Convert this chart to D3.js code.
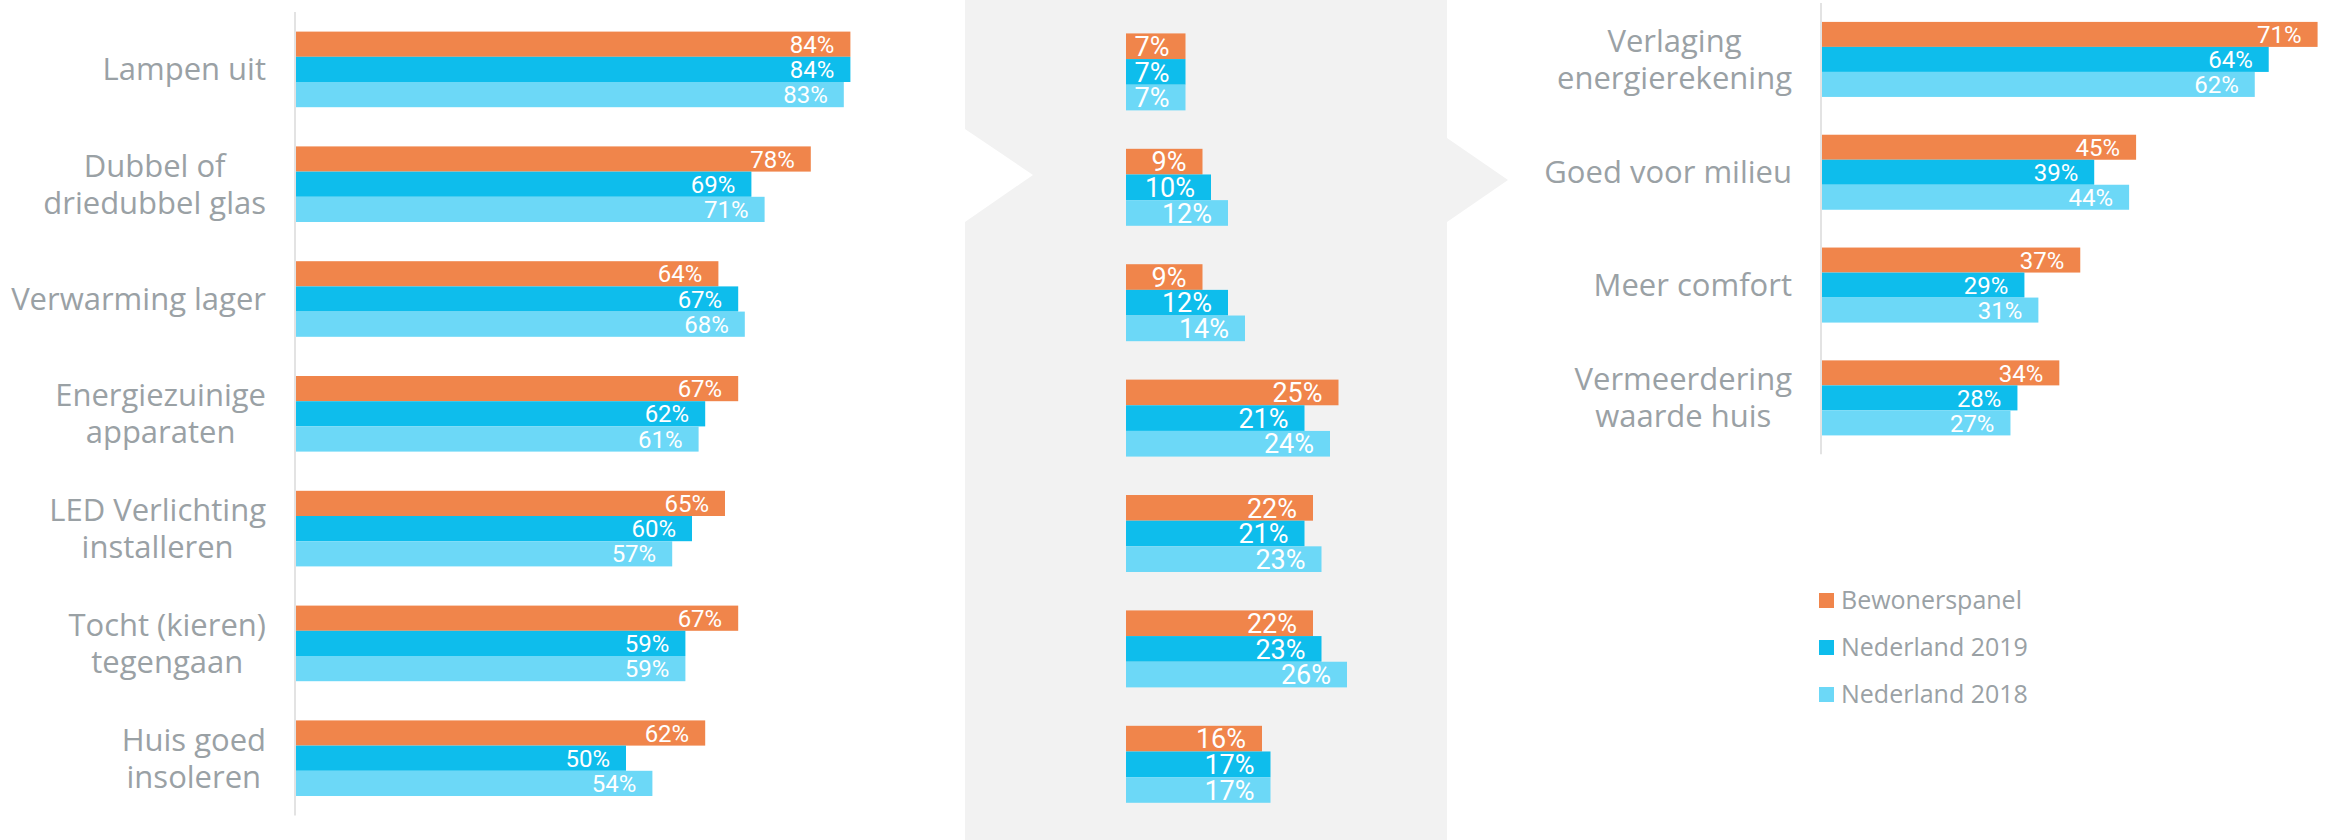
<!DOCTYPE html>
<html>
<head>
<meta charset="utf-8">
<script src="https://cdn.jsdelivr.net/npm/d3@7"></script>
<style>
  body { margin: 0; background: #ffffff; }
  .cat { font-family: "Open Sans", sans-serif; font-size: 31px; fill: #9aa1a5; }
  .val { font-family: Roboto, sans-serif; fill: #ffffff; }
  .legend text { font-family: "Open Sans", sans-serif; font-size: 25px; fill: #9aa1a5; }
</style>
</head>
<body>
<svg id="chart" width="2325" height="840"></svg>
<script>
// series
var series = ["Bewonerspanel", "Nederland 2019", "Nederland 2018"];
var seriesColors = ["#f0854b", "#0ebdec", "#6cd8f7"];

// maatregelen (left + middle panel share these rows)
var measures = [
    "Lampen uit",
    "Dubbel of\ndriedubbel glas",
    "Verwarming lager",
    "Energiezuinige\napparaten",
    "LED Verlichting\ninstalleren",
    "Tocht (kieren)\ntegengaan",
    "Huis goed\ninsoleren"
];
var doneBewoners = [84, 78, 64, 67, 65, 67, 62];
var doneNL2019   = [84, 69, 67, 62, 60, 59, 50];
var doneNL2018   = [83, 71, 68, 61, 57, 59, 54];

var planBewoners = [7, 9, 9, 25, 22, 22, 16];
var planNL2019   = [7, 10, 12, 21, 21, 23, 17];
var planNL2018   = [7, 12, 14, 24, 23, 26, 17];

// motieven (right panel)
var reasons = [
    "Verlaging\nenergierekening",
    "Goed voor milieu",
    "Meer comfort",
    "Vermeerdering\nwaarde huis"
];
var reasonBewoners = [71, 45, 37, 34];
var reasonNL2019   = [64, 39, 29, 28];
var reasonNL2018   = [62, 44, 31, 27];

var svg = d3.select("#chart");

// grey middle block with notch on the left and point on the right
svg.append("path")
    .attr("d", "M965,0 L1447,0 L1447,138 L1508,180 L1447,222 L1447,840 L965,840 L965,222 L1033,175 L965,129 Z")
    .attr("fill", "#f2f2f2");

function drawPanel(opts) {
    var g = svg.append("g");
    var data = opts.cats.map(function(c, i) {
        return { cat: c, values: opts.values.map(function(arr) { return arr[i]; }) };
    });

    var y = d3.scaleBand()
        .domain(opts.cats)
        .range(opts.yRange)
        .paddingInner(opts.padInner)
        .paddingOuter(opts.padInner / 2);

    var ySub = d3.scaleBand()
        .domain(series)
        .range([0, y.bandwidth()]);

    var x = d3.scaleLinear()
        .domain([0, 100])
        .range([opts.x0, opts.x0 + 100 * opts.pxPerPct]);

    var rows = g.selectAll(".row")
        .data(data)
        .enter().append("g")
        .attr("class", "row")
        .attr("transform", function(d) { return "translate(0," + y(d.cat) + ")"; });

    rows.selectAll("rect")
        .data(function(d) { return d.values.map(function(v, k) { return { s: series[k], k: k, v: v }; }); })
        .enter().append("rect")
        .attr("x", x(0))
        .attr("y", function(d) { return ySub(d.s); })
        .attr("width", function(d) { return x(d.v) - x(0); })
        .attr("height", ySub.bandwidth())
        .attr("fill", function(d) { return seriesColors[d.k]; });

    rows.selectAll(".val")
        .data(function(d) { return d.values.map(function(v, k) { return { s: series[k], v: v }; }); })
        .enter().append("text")
        .attr("class", "val")
        .attr("x", function(d) { return x(d.v) - 16; })
        .attr("y", function(d) { return ySub(d.s) + ySub.bandwidth() / 2 + opts.valSize * 0.36; })
        .attr("text-anchor", "end")
        .style("font-size", opts.valSize + "px")
        .text(function(d) { return d.v + "%"; });

    if (opts.axis) {
        g.append("line")
            .attr("x1", x(0) - 1).attr("x2", x(0) - 1)
            .attr("y1", opts.yRange[0]).attr("y2", opts.yRange[1])
            .attr("stroke", "#e3e3e3")
            .attr("stroke-width", 2);
    }

    if (opts.labels) {
        var lineH = 37;
        rows.each(function(d) {
            var lines = d.cat.split("\n");
            var t = d3.select(this).append("text").attr("class", "cat");
            var mid = y.bandwidth() / 2;
            var spans = lines.map(function(line, i) {
                return t.append("tspan")
                    .attr("y", mid + 11 + (i - (lines.length - 1) / 2) * lineH)
                    .text(line);
            });
            // right-aligned block, lines centred within it
            var w = d3.max(spans, function(s) { return s.node().getComputedTextLength(); });
            var cx = x(0) - 30 - w / 2;
            spans.forEach(function(s) { s.attr("x", cx).attr("text-anchor", "middle"); });
        });
    }
}

drawPanel({
    cats: measures,
    values: [doneBewoners, doneNL2019, doneNL2018],
    x0: 296, pxPerPct: 6.6,
    yRange: [12, 815.6], padInner: 0.3415,
    valSize: 24, axis: true, labels: true
});

drawPanel({
    cats: measures,
    values: [planBewoners, planNL2019, planNL2018],
    x0: 1126, pxPerPct: 8.5,
    yRange: [14.2, 822], padInner: 0.333,
    valSize: 27, axis: false, labels: false
});

drawPanel({
    cats: reasons,
    values: [reasonBewoners, reasonNL2019, reasonNL2018],
    x0: 1822, pxPerPct: 6.98,
    yRange: [3, 454.3], padInner: 0.335,
    valSize: 24, axis: true, labels: true
});

// legend
var legend = svg.append("g").attr("class", "legend")
    .attr("transform", "translate(1819,593)");
var items = legend.selectAll("g")
    .data(series)
    .enter().append("g")
    .attr("transform", function(d, i) { return "translate(0," + i * 47 + ")"; });
items.append("rect")
    .attr("width", 15).attr("height", 15)
    .attr("fill", function(d, i) { return seriesColors[i]; });
items.append("text")
    .attr("x", 22).attr("y", 16)
    .text(function(d) { return d; });
</script>
</body>
</html>
